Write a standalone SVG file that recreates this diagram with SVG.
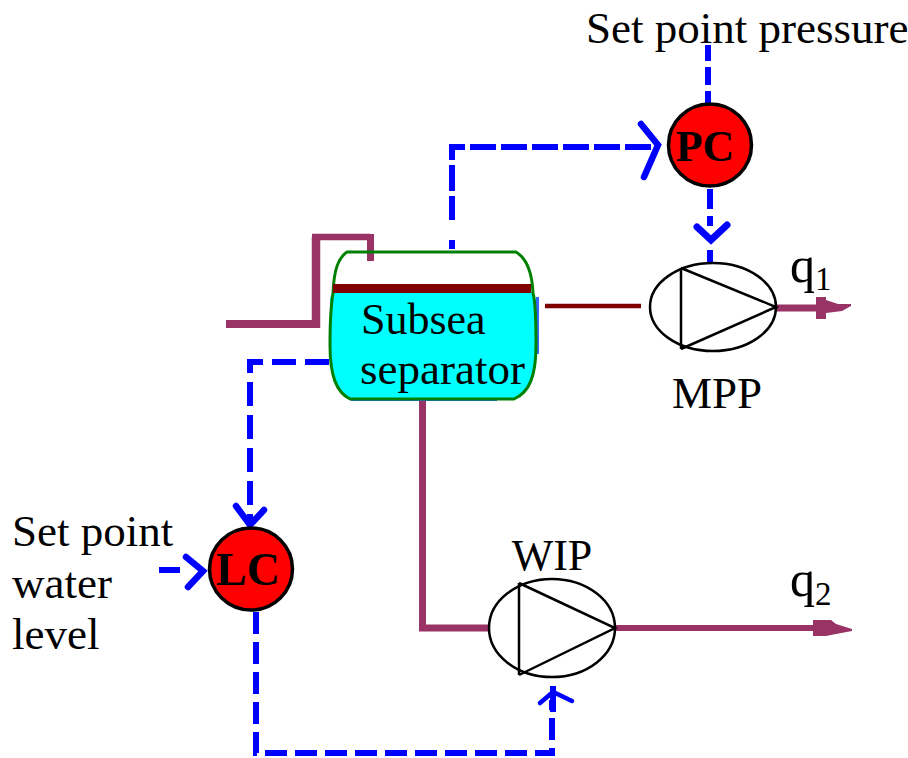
<svg xmlns="http://www.w3.org/2000/svg" width="908" height="758" viewBox="0 0 908 758">
<style>
text{font-family:"Liberation Serif","Times New Roman",serif;fill:#000}
.t{font-size:45px}
.pipe{fill:none;stroke:#993366;stroke-linecap:butt;stroke-linejoin:miter}
.ctl{fill:none;stroke:#0000ff;stroke-width:6}
.head{fill:none;stroke:#0000ff;stroke-linecap:round;stroke-linejoin:miter}
.pump{fill:#fff;stroke:#000;stroke-width:2.500}
.tri{fill:none;stroke:#000;stroke-width:2.500}
.ctrl{fill:#ff0000;stroke:#000;stroke-width:3.500}
.lab{font-weight:bold}
.fl{fill:#993366}
</style>
<rect width="908" height="758" fill="#fff"/>
<g id="connectors">
<path class="pipe" stroke-width="8" d="M226 324H316"/>
<path class="pipe" stroke-width="8.500" d="M316 328V237"/>
<path class="pipe" stroke-width="6.500" d="M312 237H370.500"/>
<path class="pipe" stroke-width="7" d="M370.500 234V261"/>
<path class="pipe" stroke-width="7" d="M422.500 400V628H490"/>
<path fill="none" stroke="#800000" stroke-width="4.500" d="M545 306H641"/>
<path class="pipe" stroke-width="7" d="M776 308H825"/>
<path class="fl" d="M816 297H826V300L838 304H851V306L842 311L826 313V319H816Z"/>
<path class="pipe" stroke-width="6" d="M616 628H825"/>
<path class="fl" d="M813 620H831L836 624L852 629V631L836 634L826 636H813Z"/>
<path class="ctl" stroke-width="5" stroke-dasharray="24 5 2 0" d="M452 220V147H655"/>
<path class="ctl" stroke-width="2.500" d="M452 240V249"/>
<path class="ctl" d="M329 362H250V520" stroke-dasharray="24 9 24 9"/>
<path class="ctl" d="M708 45V105" stroke-dasharray="16 6 18 6"/>
<path class="ctl" d="M710 189V226" stroke-dasharray="20 7 28 7"/>
<path class="ctl" d="M710 250V262"/>
<path class="ctl" d="M159 570H180"/>
<path class="ctl" stroke-width="5.500" d="M256 612V753H552V700" stroke-dasharray="22 8 22 8"/>
<path class="head" stroke-width="6.500" d="M641 124L658 145L644 177"/>
<path class="head" stroke-width="7" d="M697 227L711 240L727 225"/>
<path class="head" stroke-width="6.500" d="M236 506L250 525L264 510"/>
<path class="head" stroke-width="6.500" d="M186 557L203 571L188 587"/>
<path class="head" stroke-width="4.500" d="M540 703L553 692L572 701"/>
<path class="ctl" stroke-width="5" d="M553 686V712"/>
</g>
<g id="separator">
<path d="M334 292H532L536 300V345C536 375 530 392 514 399H350C336 392 330 375 330 345V298Z" fill="#00ffff"/>
<path d="M536 297H539V354H536Z" fill="#3366ff"/>
<path d="M351 400H497" stroke="#3366ff" stroke-width="2" fill="none"/>
<path d="M347 252H516C526 258 532 270 533 293C535 300 536 310 536 345C536 375 530 392 514 399H350C336 392 330 375 330 345C330 315 331 305 333 293C334 270 338 258 347 252Z" fill="none" stroke="#008000" stroke-width="3"/>
<rect x="333" y="284" width="198" height="9" fill="#800000"/>
<text x="361" y="334" font-size="44">Subsea</text>
<text x="360" y="384" class="t">separator</text>
</g>
<g id="pc">
<ellipse cx="710" cy="145" rx="41.500" ry="41" class="ctrl"/>
<text x="705" y="161" class="lab" font-size="44" text-anchor="middle">PC</text>
</g>
<g id="lc">
<ellipse cx="251" cy="569" rx="41.500" ry="41" class="ctrl"/>
<text x="248" y="585" class="lab" font-size="46" text-anchor="middle">LC</text>
</g>
<g id="mpp">
<ellipse cx="713" cy="307" rx="63" ry="44" class="pump"/>
<path class="tri" d="M681 268V349M681 268L776 307L681 349"/>
<text x="717" y="408" class="t" text-anchor="middle">MPP</text>
</g>
<g id="wip">
<ellipse cx="552" cy="628" rx="63" ry="49" class="pump"/>
<path class="tri" d="M519 583V675M519 583L615 628L519 675"/>
<text x="552" y="570" font-size="44" text-anchor="middle">WIP</text>
</g>
<g id="labels">
<text x="586" y="43" class="t">Set point pressure</text>
<text x="790" y="282" font-size="50">q<tspan font-size="33" dy="8">1</tspan></text>
<text x="790" y="596" font-size="50">q<tspan font-size="33" dy="9">2</tspan></text>
<text x="12" y="546" class="t">Set point</text>
<text x="12" y="598" class="t">water</text>
<text x="12" y="649" class="t">level</text>
</g>
</svg>
